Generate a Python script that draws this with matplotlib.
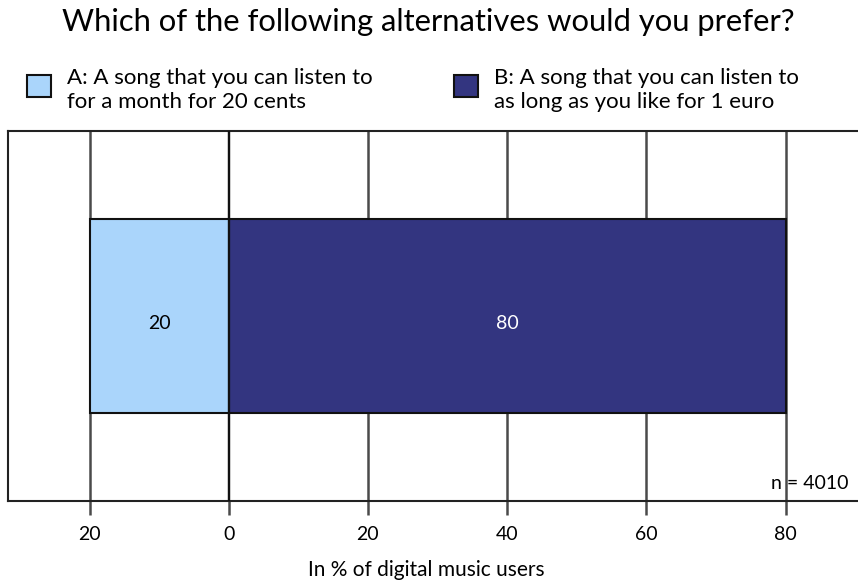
import matplotlib
matplotlib.use("Agg")
import matplotlib.pyplot as plt
from matplotlib.patches import Rectangle

plt.rcParams['font.family'] = ['Lato', 'DejaVu Sans']

title = "Which of the following alternatives would you prefer?"
labels = ["A: A song that you can listen to\nfor a month for 20 cents",
          "B: A song that you can listen to\nas long as you like for 1 euro"]
values_a = [20]
values_b = [80]
colors = ["#aad5fb", "#333580"]
tick_vals = [-20, 0, 20, 40, 60, 80]
tick_labels = ["20", "0", "20", "40", "60", "80"]
xlabel = "In % of digital music users"
note = "n = 4010"

fig = plt.figure(figsize=(8.58, 5.83), dpi=100)
W, H = 858, 583
ax_right_px = 866.58
ax = fig.add_axes([8 / W, 1 - 501 / H, (ax_right_px - 8) / W, (501 - 131) / H])
ppu = 6.96
ax.set_xlim(-(228.7 - 8) / ppu, (ax_right_px - 228.7) / ppu)
ax.set_ylim(0, 1)

# grid lines
for v in tick_vals:
    ax.axvline(v, color="#111111" if v == 0 else "#4a4a4a", lw=1.6 if v == 0 else 1.8, zorder=1)

bar_h = 0.527
ax.barh([0.5], [-v for v in values_a], height=bar_h, color=colors[0], edgecolor="#111111", lw=1.5, zorder=2)
ax.barh([0.5], values_b, height=bar_h, color=colors[1], edgecolor="#111111", lw=1.5, zorder=2)
ax.axvline(0, color="#111111", lw=1.6, zorder=3)

ax.text(-values_a[0] / 2, 0.48, str(values_a[0]), ha="center", va="center", fontsize=14, color="black", zorder=4)
ax.text(values_b[0] / 2, 0.48, str(values_b[0]), ha="center", va="center", fontsize=14, color="white", zorder=4)

ax.set_xticks(tick_vals)
ax.set_xticklabels(tick_labels, fontsize=14)
ax.tick_params(axis="x", length=10, width=1.8, color="#4a4a4a", pad=8)
ax.set_yticks([])
ax.spines["right"].set_visible(False)
for s in ["left", "top", "bottom"]:
    ax.spines[s].set_color("#222222")
    ax.spines[s].set_linewidth(1.5)

ax.text((771 - 228.7) / ppu, 0.025, note, ha="left", va="bottom", fontsize=14, zorder=5)

fig.text(62 / W, 1 - 22 / H, title, ha="left", va="center", fontsize=22.3)
fig.text(308 / W, 1 - 570 / H, xlabel, ha="left", va="center", fontsize=15)

# legend
for (x0, x_text, lab, c) in [(27, 67, labels[0], colors[0]), (454, 494, labels[1], colors[1])]:
    fig.patches.append(Rectangle((x0 / W, 1 - 97 / H), 24 / W, 22 / H, transform=fig.transFigure,
                                 facecolor=c, edgecolor="#111111", lw=1.5))
    fig.text(x_text / W, 1 - 90 / H, lab, ha="left", va="center", fontsize=16, linespacing=1.25)

fig.savefig("out.png", dpi=100)
